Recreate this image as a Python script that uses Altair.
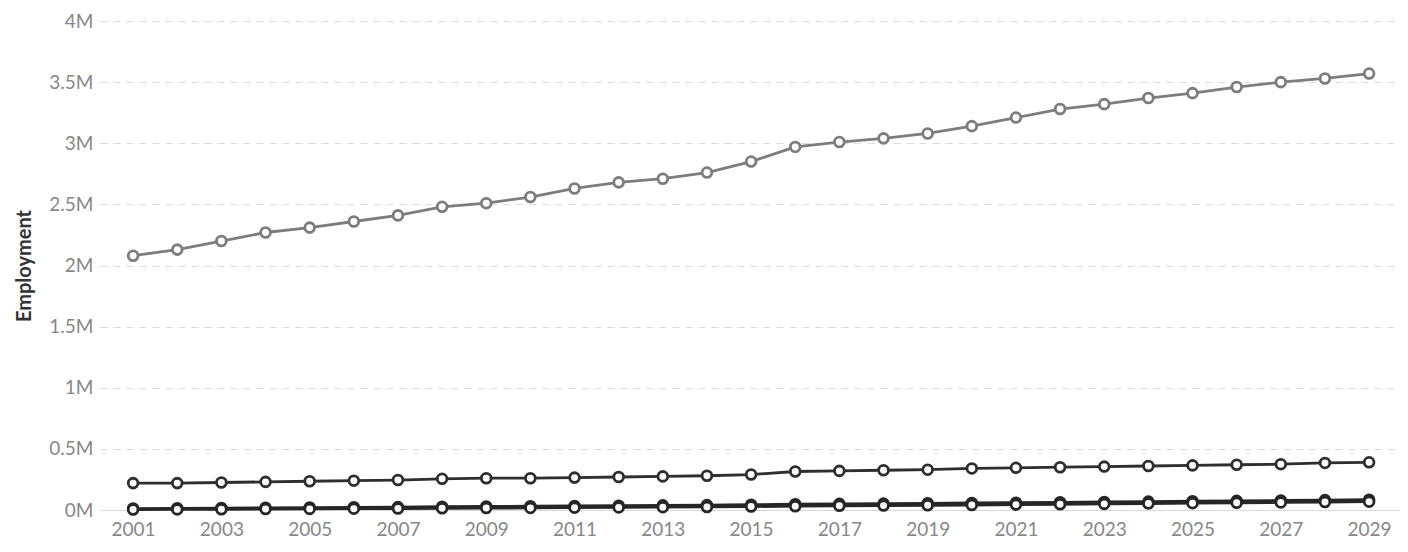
import altair as alt
import pandas as pd

years = [2001, 2002, 2003, 2004, 2005, 2006, 2007, 2008, 2009, 2010,
         2011, 2012, 2013, 2014, 2015, 2016, 2017, 2018, 2019, 2020,
         2021, 2022, 2023, 2024, 2025, 2026, 2027, 2028, 2029]

series_top = [2.08, 2.13, 2.20, 2.27, 2.31, 2.36, 2.41, 2.48, 2.51, 2.56,
              2.63, 2.68, 2.71, 2.76, 2.85, 2.97, 3.01, 3.04, 3.08, 3.14,
              3.21, 3.28, 3.32, 3.37, 3.41, 3.46, 3.50, 3.53, 3.57]

series_mid = [0.22, 0.22, 0.225, 0.23, 0.235, 0.24, 0.245, 0.255, 0.26, 0.26,
              0.265, 0.27, 0.275, 0.28, 0.29, 0.315, 0.32, 0.325, 0.33, 0.34,
              0.345, 0.35, 0.355, 0.36, 0.365, 0.37, 0.375, 0.385, 0.39]

series_low1 = [0.012, 0.014, 0.016, 0.018, 0.02, 0.022, 0.024, 0.027, 0.029, 0.031,
               0.033, 0.035, 0.038, 0.04, 0.043, 0.047, 0.05, 0.052, 0.055, 0.058,
               0.06, 0.063, 0.066, 0.069, 0.072, 0.075, 0.078, 0.081, 0.084]

series_low2 = [0.004, 0.005, 0.006, 0.008, 0.009, 0.011, 0.012, 0.014, 0.016, 0.017,
               0.019, 0.021, 0.023, 0.025, 0.028, 0.031, 0.034, 0.036, 0.039, 0.041,
               0.044, 0.047, 0.05, 0.053, 0.056, 0.059, 0.062, 0.065, 0.068]

series_names = ["Total", "Group B", "Group C", "Group D"]
series_colors = ["#7d7d7d", "#2e2e2e", "#262626", "#262626"]
all_series = [series_top, series_mid, series_low1, series_low2]

rows = []
for name, vals in zip(series_names, all_series):
    for yr, v in zip(years, vals):
        rows.append({"year": yr, "employment": v * 1_000_000, "series": name})
df = pd.DataFrame(rows)

x_enc = alt.X(
    "year:Q",
    scale=alt.Scale(domain=[2000.25, 2029.7], nice=False, zero=False),
    axis=alt.Axis(
        values=[2001, 2003, 2005, 2007, 2009, 2011, 2013, 2015, 2017, 2019,
                2021, 2023, 2025, 2027, 2029],
        format="d", title=None, grid=False, ticks=False,
        domain=True, domainColor="#d9d9d9", domainWidth=1,
        labelColor="#878787", labelFont="Lato", labelFontSize=19,
        labelPadding=10,
    ),
)
y_enc = alt.Y(
    "employment:Q",
    scale=alt.Scale(domain=[0, 4_000_000], nice=False),
    axis=alt.Axis(
        values=[0, 500000, 1000000, 1500000, 2000000, 2500000, 3000000, 3500000, 4000000],
        labelExpr="datum.value / 1000000 + 'M'",
        title="Employment", titleFont="Lato", titleFontSize=20,
        titleColor="#333333", titleFontWeight="bold", titlePadding=14,
        labelColor="#878787", labelFont="Lato", labelFontSize=19,
        labelPadding=7, ticks=False, domain=False,
        grid=True, gridDash=[7, 6], gridColor="#dcdcdc", gridWidth=1,
    ),
)
color_enc = alt.Color(
    "series:N",
    scale=alt.Scale(domain=series_names, range=series_colors),
    legend=None,
)

base = alt.Chart(df).encode(x=x_enc, y=y_enc, color=color_enc, detail="series:N")

lines = base.mark_line(strokeWidth=2.8)
points = base.mark_point(filled=False, fill="white", fillOpacity=1, size=95,
                         strokeWidth=2.8, opacity=1).encode(stroke=color_enc)

chart = (
    alt.layer(lines, points)
    .properties(
        width=1300, height=489,
        autosize=alt.AutoSizeParams(type="none"),
        padding={"left": 92, "top": 13, "right": 0, "bottom": 30},
    )
    .configure(background="white")
    .configure_view(strokeWidth=0, stroke="transparent")
)

chart.save("out.html", embed_options={"renderer": "svg", "actions": False})
